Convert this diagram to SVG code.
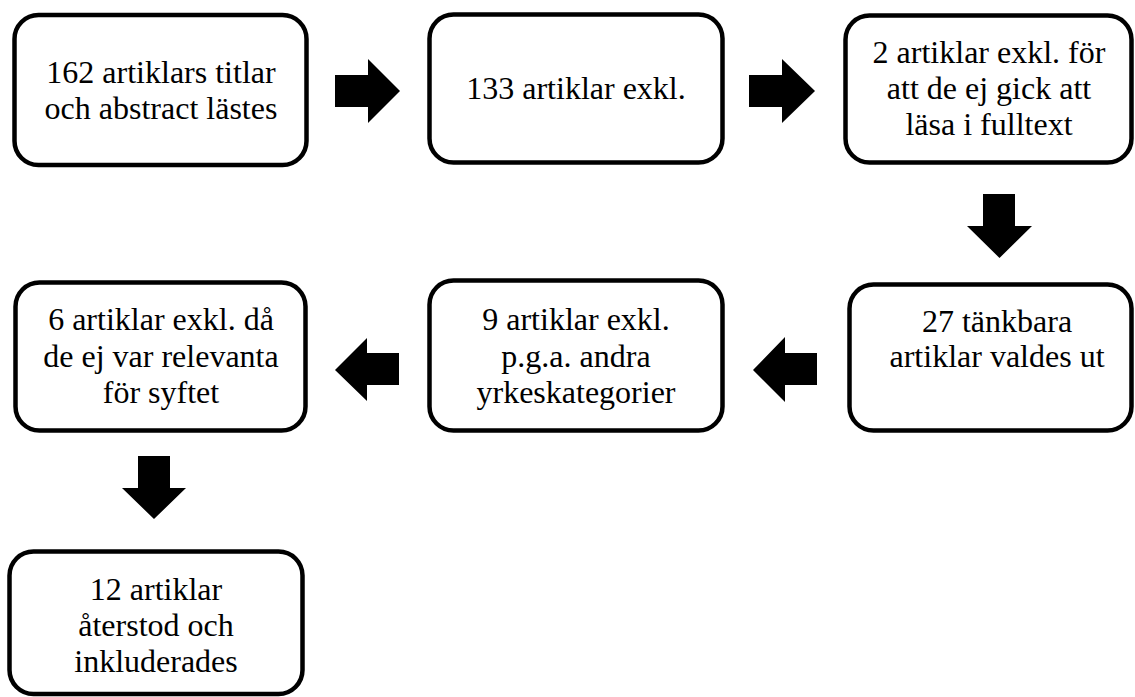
<svg xmlns="http://www.w3.org/2000/svg" width="1135" height="697" viewBox="0 0 1135 697">
<style>
.box{fill:#fff;stroke:#000;stroke-width:4.5}
.t{font-family:"Liberation Serif",serif;font-size:32px;fill:#000;text-anchor:middle}
.arr{fill:#000}
</style>
<rect width="1135" height="697" fill="#fff"/>
<g id="connectors">
<polygon class="arr" points="335,75 368,75 368,59 400,91 368,123 368,107 335,107"/>
<polygon class="arr" points="749,75 782,75 782,59 815,91 782,123 782,107 749,107"/>
<polygon class="arr" points="983,194 1015,194 1015,226 1032,226 999.5,258 967,226 983,226"/>
<polygon class="arr" points="817,353 785,353 785,337 753,370 785,402 785,385 817,385"/>
<polygon class="arr" points="399,353 367,353 367,338 335,370 367,401 367,385 399,385"/>
<polygon class="arr" points="138,456 170,456 170,488 186,488 154,519 122,488 138,488"/>
</g>
<g id="n1">
<rect class="box" x="14.5" y="15" width="292" height="150" rx="24"/>
<text class="t" x="161" y="83">162 artiklars titlar</text>
<text class="t" x="161" y="119">och abstract lästes</text>
</g>
<g id="n2">
<rect class="box" x="429.5" y="14.5" width="293" height="148" rx="24"/>
<text class="t" x="576" y="99">133 artiklar exkl.</text>
</g>
<g id="n3">
<rect class="box" x="845.5" y="15.5" width="286" height="147" rx="24"/>
<text class="t" x="989" y="63">2 artiklar exkl. för</text>
<text class="t" x="989" y="99">att de ej gick att</text>
<text class="t" x="989" y="135">läsa i fulltext</text>
</g>
<g id="n4">
<rect class="box" x="849.5" y="284.5" width="282" height="146" rx="24"/>
<text class="t" x="997" y="332">27 tänkbara</text>
<text class="t" x="997" y="367">artiklar valdes ut</text>
</g>
<g id="n5">
<rect class="box" x="429.5" y="280.5" width="293" height="150" rx="24"/>
<text class="t" x="576" y="330">9 artiklar exkl.</text>
<text class="t" x="576" y="367">p.g.a. andra</text>
<text class="t" x="576" y="403">yrkeskategorier</text>
</g>
<g id="n6">
<rect class="box" x="15.5" y="282.5" width="290" height="148" rx="24"/>
<text class="t" x="161" y="330">6 artiklar exkl. då</text>
<text class="t" x="161" y="367">de ej var relevanta</text>
<text class="t" x="161" y="403">för syftet</text>
</g>
<g id="n7">
<rect class="box" x="9.5" y="551.5" width="293" height="142.5" rx="24"/>
<text class="t" x="156" y="600">12 artiklar</text>
<text class="t" x="156" y="636">återstod och</text>
<text class="t" x="156" y="672">inkluderades</text>
</g>
</svg>
